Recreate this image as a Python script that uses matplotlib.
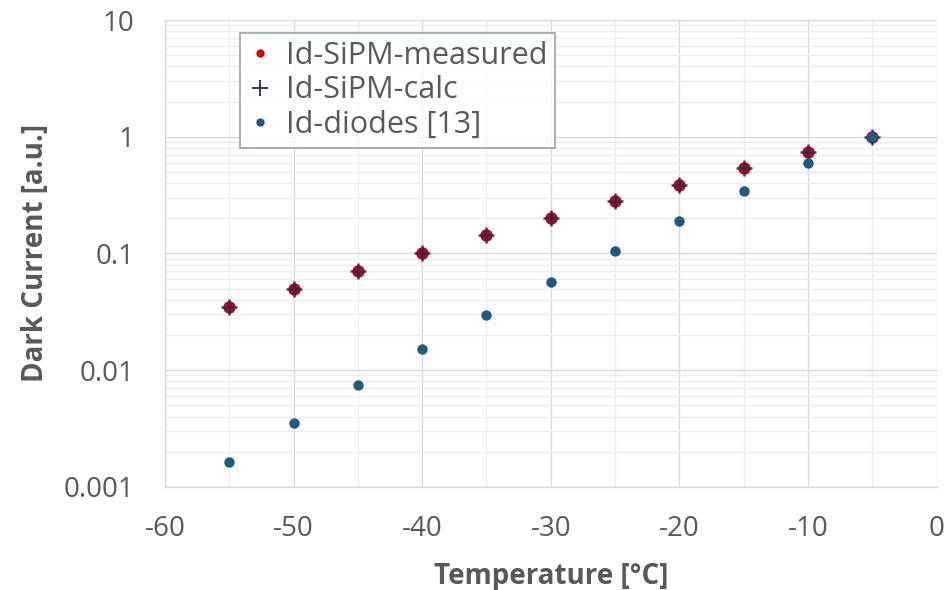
import matplotlib
matplotlib.use("Agg")
import matplotlib.pyplot as plt
from matplotlib.ticker import FixedLocator, LogLocator, NullFormatter, FixedFormatter
from matplotlib.lines import Line2D

temperature = [-55, -50, -45, -40, -35, -30, -25, -20, -15, -10, -5]
id_sipm_measured = [0.035, 0.050, 0.071, 0.101, 0.143, 0.203, 0.284, 0.389, 0.54, 0.74, 1.0]
id_sipm_calc = [0.035, 0.050, 0.071, 0.101, 0.143, 0.203, 0.284, 0.389, 0.54, 0.74, 1.0]
id_diodes = [0.00164, 0.00352, 0.00745, 0.0151, 0.0295, 0.0565, 0.104, 0.191, 0.345, 0.60, 1.0]

x_ticks = [-60, -50, -40, -30, -20, -10, 0]
y_ticks = [0.001, 0.01, 0.1, 1, 10]
y_tick_labels = ["0.001", "0.01", "0.1", "1", "10"]

plt.rcParams['font.family'] = ['Open Sans', 'DejaVu Sans']
txt = '#595959'

fig = plt.figure(figsize=(9.48, 5.9), dpi=100)
ax = fig.add_axes([0.174, 0.175, 0.814, 0.791])

red = '#C00018'
navy = '#1F2D50'
blue = '#1B5C80'

ax.plot(temperature, id_sipm_measured, linestyle='none', marker='o', markersize=9,
        color=red, markeredgewidth=0, zorder=3)
ax.plot(temperature, id_sipm_calc, linestyle='none', marker='+', markersize=11,
        color=navy, markeredgewidth=1.8, zorder=4, alpha=0.85)
ax.plot(temperature, id_diodes, linestyle='none', marker='o', markersize=7.5,
        color=blue, markeredgewidth=0, zorder=5)

ax.set_yscale('log')
ax.set_xlim(-60, 0)
ax.set_ylim(0.001, 10)
ax.xaxis.set_major_locator(FixedLocator(x_ticks))
ax.xaxis.set_minor_locator(FixedLocator([-55, -45, -35, -25, -15, -5]))
ax.yaxis.set_major_locator(FixedLocator(y_ticks))
ax.yaxis.set_major_formatter(FixedFormatter(y_tick_labels))
ax.yaxis.set_minor_locator(LogLocator(base=10, subs=range(2, 10)))
ax.yaxis.set_minor_formatter(NullFormatter())
ax.set_xticklabels([str(v) for v in x_ticks])

ax.grid(True, which='major', color='#D9D9D9', linewidth=1.0, zorder=0)
ax.grid(True, which='minor', color='#EDEDED', linewidth=1.0, zorder=0)
ax.set_axisbelow(True)

for s in ['top', 'right']:
    ax.spines[s].set_visible(False)
for s in ['left', 'bottom']:
    ax.spines[s].set_color('#D9D9D9')
    ax.spines[s].set_linewidth(1.0)

ax.tick_params(which='both', length=0)
ax.tick_params(axis='both', labelsize=20, labelcolor=txt)
ax.tick_params(axis='x', pad=20)
ax.tick_params(axis='y', pad=22)

ax.set_xlabel('Temperature [°C]', fontsize=20, fontweight='bold', color=txt, labelpad=14)
ax.set_ylabel('Dark Current [a.u.]', fontsize=20, fontweight='bold', color=txt, labelpad=10)

handles = [
    Line2D([], [], linestyle='none', marker='o', markersize=6, color='#E00000', markeredgewidth=0),
    Line2D([], [], linestyle='none', marker='+', markersize=11, color=navy, markeredgewidth=1.3),
    Line2D([], [], linestyle='none', marker='o', markersize=6, color=blue, markeredgewidth=0),
]
labels = ['Id-SiPM-measured', 'Id-SiPM-calc', 'Id-diodes [13]']
leg = ax.legend(handles, labels, loc='upper left', bbox_to_anchor=(0.097, 0.972),
                fontsize=22, frameon=True, fancybox=False, handletextpad=0.45,
                handlelength=0.8, borderpad=0.25, labelspacing=0.15, borderaxespad=0)
leg.get_frame().set_edgecolor('#7F8C99')
leg.get_frame().set_linewidth(1.2)
for t in leg.get_texts():
    t.set_color(txt)

fig.savefig('out.png', dpi=100)
